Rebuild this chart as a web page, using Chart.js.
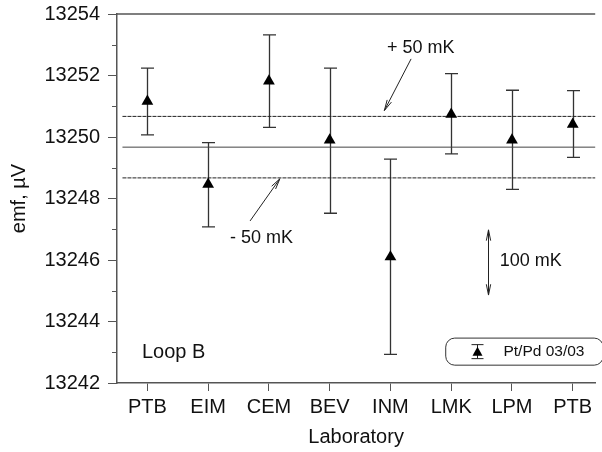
<!DOCTYPE html>
<html>
<head>
<meta charset="utf-8">
<title>Loop B emf</title>
<script src="https://cdn.jsdelivr.net/npm/chart.js@4.4.1/dist/chart.umd.min.js"></script>
<style>
  html, body { margin: 0; padding: 0; background: #fff; overflow: hidden; }
  #wrap { width: 602px; height: 452px; }
</style>
</head>
<body>
<div id="wrap"><canvas id="chart"></canvas></div>
<script>
  // laboratories in loop order, emf value and its error bar ends (µV)
  const labs = ['PTB', 'EIM', 'CEM', 'BEV', 'INM', 'LMK', 'LPM', 'PTB'];
  const emf = [13251.16, 13248.46, 13251.82, 13249.9, 13246.1, 13250.74, 13249.9, 13250.41];
  const errTop = [13252.24, 13249.82, 13253.32, 13252.24, 13249.28, 13252.06, 13251.52, 13251.51];
  const errBottom = [13250.07, 13247.08, 13250.31, 13247.52, 13242.93, 13249.45, 13248.30, 13249.34];

  const refMean = 13249.67;
  const refLines = [refMean + 1, refMean, refMean - 1]; // +50 mK, mean, -50 mK
  const yTicks = [13242, 13244, 13246, 13248, 13250, 13252, 13254];
  const yMinor = [13243, 13245, 13247, 13249, 13251, 13253];

  const FONT = "'Liberation Sans', Arial, sans-serif";
  const AXIS = '#555';
  const INK = '#222';

  function arrowHead(ctx, x1, y1, x2, y2, len, spread) {
    const a = Math.atan2(y2 - y1, x2 - x1);
    ctx.beginPath();
    ctx.moveTo(x2 - len * Math.cos(a - spread), y2 - len * Math.sin(a - spread));
    ctx.lineTo(x2, y2);
    ctx.lineTo(x2 - len * Math.cos(a + spread), y2 - len * Math.sin(a + spread));
    ctx.stroke();
  }

  function arrow(ctx, x1, y1, x2, y2) {
    ctx.beginPath();
    ctx.moveTo(x1, y1);
    ctx.lineTo(x2, y2);
    ctx.stroke();
    arrowHead(ctx, x1, y1, x2, y2, 11, 0.22);
  }

  const extras = {
    id: 'extras',
    beforeDatasetsDraw(chart) {
      const ctx = chart.ctx;
      const xs = chart.scales.x, ys = chart.scales.y;
      ctx.save();
      ctx.strokeStyle = '#333';
      ctx.lineWidth = 1.3;
      emf.forEach((v, i) => {
        const x = Math.round(xs.getPixelForValue(i + 1)) + 0.5;
        const t = ys.getPixelForValue(errTop[i]);
        const b = ys.getPixelForValue(errBottom[i]);
        ctx.beginPath();
        ctx.moveTo(x, t); ctx.lineTo(x, b);
        ctx.moveTo(x - 6.5, t); ctx.lineTo(x + 6.5, t);
        ctx.moveTo(x - 6.5, b); ctx.lineTo(x + 6.5, b);
        ctx.stroke();
      });
      ctx.restore();
    },
    afterDraw(chart) {
      const ctx = chart.ctx;
      const xs = chart.scales.x, ys = chart.scales.y;
      const area = chart.chartArea;
      const px = v => xs.getPixelForValue(v);
      const py = v => ys.getPixelForValue(v);
      ctx.save();

      // top frame line
      ctx.strokeStyle = AXIS;
      ctx.lineWidth = 1.5;
      ctx.beginPath();
      ctx.moveTo(area.left, area.top);
      ctx.lineTo(area.right, area.top);
      ctx.stroke();

      // minor ticks on y
      ctx.lineWidth = 1;
      yMinor.forEach(v => {
        const y = Math.round(py(v)) + 0.5;
        ctx.beginPath();
        ctx.moveTo(area.left - 5, y);
        ctx.lineTo(area.left, y);
        ctx.stroke();
      });

      // annotations
      ctx.strokeStyle = INK;
      ctx.fillStyle = '#111';
      ctx.lineWidth = 1;
      ctx.font = '18px ' + FONT;
      ctx.textBaseline = 'middle';
      ctx.textAlign = 'center';
      ctx.fillText('+ 50 mK', px(5.5), py(13252.89));
      arrow(ctx, px(5.34), py(13252.54), px(4.9), py(13250.86));
      ctx.fillText('- 50 mK', px(2.88), py(13246.72));
      arrow(ctx, px(2.69), py(13247.27), px(3.18), py(13248.64));

      // 100 mK double arrow
      const xa = Math.round(px(6.6)) + 0.5;
      const ya = py(13246.98), yb = py(13244.86);
      ctx.beginPath();
      ctx.moveTo(xa, ya); ctx.lineTo(xa, yb);
      ctx.stroke();
      arrowHead(ctx, xa, yb, xa, ya, 11, 0.2);
      arrowHead(ctx, xa, ya, xa, yb, 11, 0.2);
      ctx.textAlign = 'left';
      ctx.fillText('100 mK', px(6.8), py(13245.97));

      ctx.font = '20px ' + FONT;
      ctx.fillText('Loop B', px(0.91), py(13243.0));

      // legend box
      const lx = px(5.91), lr = area.right + 8;
      const lt = py(13243.46), lb = py(13242.58);
      const r = 9;
      ctx.strokeStyle = '#333';
      ctx.lineWidth = 1;
      ctx.beginPath();
      ctx.moveTo(lx + r, lt);
      ctx.lineTo(lr - r, lt);
      ctx.arcTo(lr, lt, lr, lt + r, r);
      ctx.lineTo(lr, lb - r);
      ctx.arcTo(lr, lb, lr - r, lb, r);
      ctx.lineTo(lx + r, lb);
      ctx.arcTo(lx, lb, lx, lb - r, r);
      ctx.lineTo(lx, lt + r);
      ctx.arcTo(lx, lt, lx + r, lt, r);
      ctx.stroke();

      const mx = Math.round(px(6.42)) + 0.5, my = (lt + lb) / 2;
      ctx.strokeStyle = INK;
      ctx.beginPath();
      ctx.moveTo(mx, my - 7); ctx.lineTo(mx, my + 7);
      ctx.moveTo(mx - 6, my - 7); ctx.lineTo(mx + 6, my - 7);
      ctx.moveTo(mx - 6, my + 7); ctx.lineTo(mx + 6, my + 7);
      ctx.stroke();
      ctx.fillStyle = '#000';
      ctx.beginPath();
      ctx.moveTo(mx, my - 5);
      ctx.lineTo(mx + 5, my + 4);
      ctx.lineTo(mx - 5, my + 4);
      ctx.closePath();
      ctx.fill();

      ctx.fillStyle = '#111';
      ctx.font = '15.5px ' + FONT;
      ctx.fillText('Pt/Pd 03/03', px(6.86), my);
      ctx.restore();
    }
  };

  const refStyle = [
    { color: '#222', dash: [4, 1] },
    { color: '#444', dash: [] },
    { color: '#222', dash: [4, 1] }
  ];

  const datasets = [{
    type: 'scatter',
    label: 'Pt/Pd 03/03',
    data: emf.map((v, i) => ({ x: i + 1, y: v })),
    pointStyle: 'triangle',
    pointRadius: 6.8,
    backgroundColor: '#000',
    borderColor: '#000',
    borderWidth: 0
  }].concat(refLines.map((v, k) => ({
    type: 'line',
    data: [{ x: 0.59, y: v }, { x: 8.5, y: v }],
    borderColor: refStyle[k].color,
    borderDash: refStyle[k].dash,
    borderWidth: 1,
    pointRadius: 0
  })));

  new Chart(document.getElementById('chart'), {
    type: 'scatter',
    data: { datasets: datasets },
    plugins: [extras],
    options: {
      responsive: true,
      maintainAspectRatio: false,
      animation: false,
      events: [],
      layout: { padding: { top: 14, right: 0, left: 0, bottom: 0 } },
      plugins: { legend: { display: false }, tooltip: { enabled: false } },
      scales: {
        x: {
          type: 'linear',
          min: 0.5,
          max: 8.37,
          afterBuildTicks: s => { s.ticks = labs.map((_, i) => ({ value: i + 1 })); },
          afterFit: s => { s.height = 69; s.paddingLeft = 0; s.paddingRight = 0; },
          ticks: {
            callback: v => labs[v - 1] || '',
            autoSkip: false,
            maxRotation: 0,
            font: { family: FONT, size: 20 },
            color: '#111',
            padding: 4
          },
          grid: { drawOnChartArea: false, drawTicks: true, tickLength: 8, color: AXIS },
          border: { display: true, color: AXIS, width: 1.5 },
          title: {
            display: true,
            text: 'Laboratory',
            font: { family: FONT, size: 20 },
            color: '#111',
            padding: { top: 0, bottom: 3 }
          }
        },
        y: {
          min: 13242,
          max: 13254,
          afterBuildTicks: s => { s.ticks = yTicks.map(v => ({ value: v })); },
          afterFit: s => { s.width = 117; s.paddingTop = 0; s.paddingBottom = 0; },
          ticks: {
            font: { family: FONT, size: 20 },
            color: '#111',
            padding: 8,
            callback: v => String(v)
          },
          grid: { drawOnChartArea: false, drawTicks: true, tickLength: 9, color: AXIS },
          border: { display: true, color: AXIS, width: 1.5 },
          title: {
            display: true,
            text: 'emf, µV',
            font: { family: FONT, size: 20 },
            color: '#111',
            padding: { top: 7, bottom: 0 }
          }
        }
      }
    }
  });
</script>
</body>
</html>
